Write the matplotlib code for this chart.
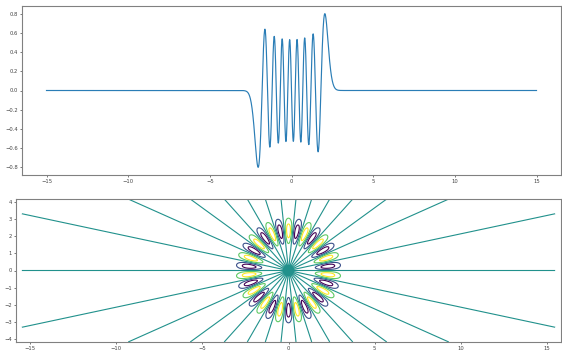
import numpy as np
import matplotlib
matplotlib.use("Agg")
import matplotlib.pyplot as plt

# ---- top panel: Hermite function (order read from the 16 extrema) ----
HERMITE_ORDER = 15
X_SCALE = 2.5
X_RANGE = [-15, 15]
N_POINTS = 3000

# ---- bottom panel: 30-ray petal ring ----
ANGULAR_ORDER = 15
RING_RADIUS = 2.3
RING_WIDTH2 = 0.56
GRID_X = [-15.5, 15.5]
GRID_Y = [-4.15, 4.15]
CONTOUR_LEVELS = [-0.75, -0.38, 0.0, 0.38, 0.75]
X_TICKS = [-15, -10, -5, 0, 5, 10, 15]
Y_TICKS_TOP = [-0.8, -0.6, -0.4, -0.2, 0.0, 0.2, 0.4, 0.6, 0.8]
Y_TICKS_BOTTOM = [-4, -3, -2, -1, 0, 1, 2, 3, 4]


def hermite_function(u, n):
    p0 = np.pi ** -0.25 * np.exp(-u ** 2 / 2)
    if n == 0:
        return p0
    p1 = np.sqrt(2.0) * u * p0
    for k in range(1, n):
        p0, p1 = p1, np.sqrt(2.0 / (k + 1)) * u * p1 - np.sqrt(k / (k + 1)) * p0
    return p1


x = np.linspace(X_RANGE[0], X_RANGE[1], N_POINTS)
y = np.sqrt(X_SCALE) * hermite_function(X_SCALE * x, HERMITE_ORDER)

gx = np.linspace(GRID_X[0], GRID_X[1], 1551)
gy = np.linspace(GRID_Y[0], GRID_Y[1], 417)
X, Y = np.meshgrid(gx, gy)
R = np.hypot(X, Y)
T = np.arctan2(Y, X)
Z = -np.sin(ANGULAR_ORDER * T) * np.exp(-(R - RING_RADIUS) ** 2 / RING_WIDTH2)

fig = plt.figure(figsize=(5.62, 3.51), dpi=100)
ax1 = fig.add_axes([22 / 562, 176 / 351, 539 / 562, 169 / 351])
ax2 = fig.add_axes([16 / 562, 9 / 351, 545 / 562, 143 / 351])

ax1.plot(x, y, color="#2a7db6", lw=0.85)
ax1.set_xticks(X_TICKS)
ax1.set_yticks(Y_TICKS_TOP)

ax2.contour(X, Y, Z, levels=CONTOUR_LEVELS, cmap="viridis", linewidths=0.8)
ax2.set_xlim(-15.84, 15.84)
ax2.set_ylim(-4.15, 4.15)
ax2.set_xticks(X_TICKS)
ax2.set_yticks(Y_TICKS_BOTTOM)

for ax in (ax1, ax2):
    ax.tick_params(labelsize=3.8, length=1.5, width=0.5, pad=1.5,
                   colors="#444444")
    for s in ax.spines.values():
        s.set_color("#808080")
        s.set_linewidth(0.8)

fig.savefig("out.png", dpi=100)
